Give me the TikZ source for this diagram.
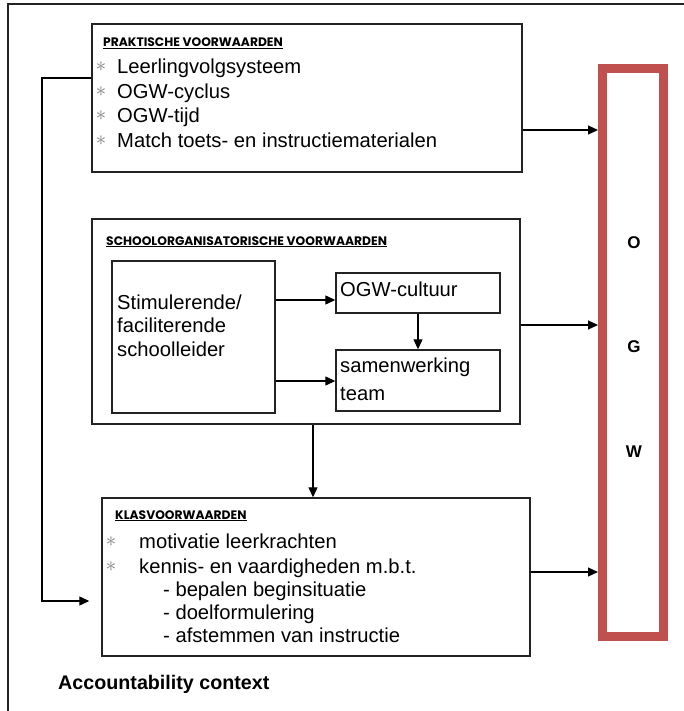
\documentclass[tikz,border=0pt]{standalone}
\usepackage{fontspec}
\setmainfont{Liberation Sans}
\newfontfamily\hdrfont{Poppins}
\usetikzlibrary{arrows.meta}
\definecolor{ogwred}{RGB}{192,80,77}
\definecolor{linegray}{RGB}{35,35,35}
\definecolor{bulletgray}{RGB}{125,125,125}

\tikzset{
  box/.style={draw=linegray, line width=1.4pt, inner sep=0pt},
  txt/.style={anchor=base west, inner sep=0pt, font=\fontsize{20.2}{24}\selectfont},
  hdr/.style={anchor=base west, inner sep=0pt, font=\hdrfont\bfseries\fontsize{12.3}{14}\selectfont},
  star/.style={anchor=base, inner sep=0pt, text=bulletgray, font=\fontsize{20}{22}\selectfont},
  arr/.style={draw=black, line width=1.2pt, -{Triangle[length=10pt,width=9pt]}},
  letter/.style={inner sep=0pt, font=\bfseries\fontsize{17}{17}\selectfont},
}

\begin{document}
\begin{tikzpicture}[x=1pt,y=-1pt]
\useasboundingbox (0,0) rectangle (684,711);

% open outer frame (top and left edges)
\draw[line width=2pt, linegray] (7.5,711) -- (7.5,4) -- (684,4);

% practical conditions
\node[box, minimum width=430, minimum height=148] (prak) at (307,98) {};
\node[hdr] (prakh) at (103,47) {\underline{PRAKTISCHE VOORWAARDEN}};
\node[star] (ps1) at (101,72) {$\ast$};
\node[star] (ps2) at (101,96.5) {$\ast$};
\node[star] (ps3) at (101,121) {$\ast$};
\node[star] (ps4) at (101,145.5) {$\ast$};
\node[txt] (p1) at (117,74) {Leerlingvolgsysteem};
\node[txt] (p2) at (117,98.5) {OGW-cyclus};
\node[txt] (p3) at (117,123) {OGW-tijd};
\node[txt] (p4) at (117,147.5) {Match toets- en instructiematerialen};

% school organisational conditions
\node[box, minimum width=428, minimum height=205] (school) at (306,321.5) {};
\node[hdr] (schoolh) at (106,245) {\underline{SCHOOLORGANISATORISCHE VOORWAARDEN}};
\node[box, minimum width=163, minimum height=152] (stim) at (193.5,337) {};
\node[txt] (s1) at (117,309) {Stimulerende/};
\node[txt] (s2) at (117,332.5) {faciliterende};
\node[txt] (s3) at (117,356) {schoolleider};
\node[box, minimum width=164, minimum height=40] (cult) at (418,293) {};
\node[txt] (c1) at (340,296) {OGW-cultuur};
\node[box, minimum width=164, minimum height=61] (samen) at (418,380.5) {};
\node[txt] (m1) at (340,372) {samenwerking};
\node[txt] (m2) at (340,400) {team};

% classroom conditions
\node[box, minimum width=428, minimum height=158] (klas) at (316,577) {};
\node[hdr] (klash) at (115,519) {\underline{KLASVOORWAARDEN}};
\node[star] (ks1) at (111,546) {$\ast$};
\node[star] (ks2) at (111,571) {$\ast$};
\node[txt] (k1) at (139,548) {motivatie leerkrachten};
\node[txt] (k2) at (139,573) {kennis- en vaardigheden m.b.t.};
\node[txt] (k3) at (163,596) {- bepalen beginsituatie};
\node[txt] (k4) at (163,619.5) {- doelformulering};
\node[txt] (k5) at (163,642.5) {- afstemmen van instructie};

% OGW column
\node[draw=ogwred, line width=9pt, inner sep=0pt, minimum width=61, minimum height=568] (ogw) at (633,352.5) {};
\node[letter] (lo) at (634,243) {O};
\node[letter] (lg) at (634,347) {G};
\node[letter] (lw) at (634,452) {W};

\node[anchor=base west, inner sep=0pt, font=\bfseries\fontsize{19.7}{20}\selectfont] (acc) at (58,689) {Accountability context};

% connectors
\draw[arr] (prak.east |- 0,130) -- (ogw.west |- 0,130);
\draw[arr] (school.east |- 0,325) -- (ogw.west |- 0,325);
\draw[arr] (klas.east |- 0,572) -- (ogw.west |- 0,572);
\draw[arr] (stim.east |- 0,300) -- (cult.west |- 0,300);
\draw[arr] (stim.east |- 0,381) -- (samen.west |- 0,381);
\draw[arr] (cult.south) -- (samen.north);
\draw[arr] (school.south -| 313,0) -- (klas.north -| 313,0);
\coordinate (turn) at (42,601);
\draw[arr, shorten >=12pt] (prak.west |- 0,78) -| (turn) -- (klas.west |- turn);
\end{tikzpicture}
\end{document}
